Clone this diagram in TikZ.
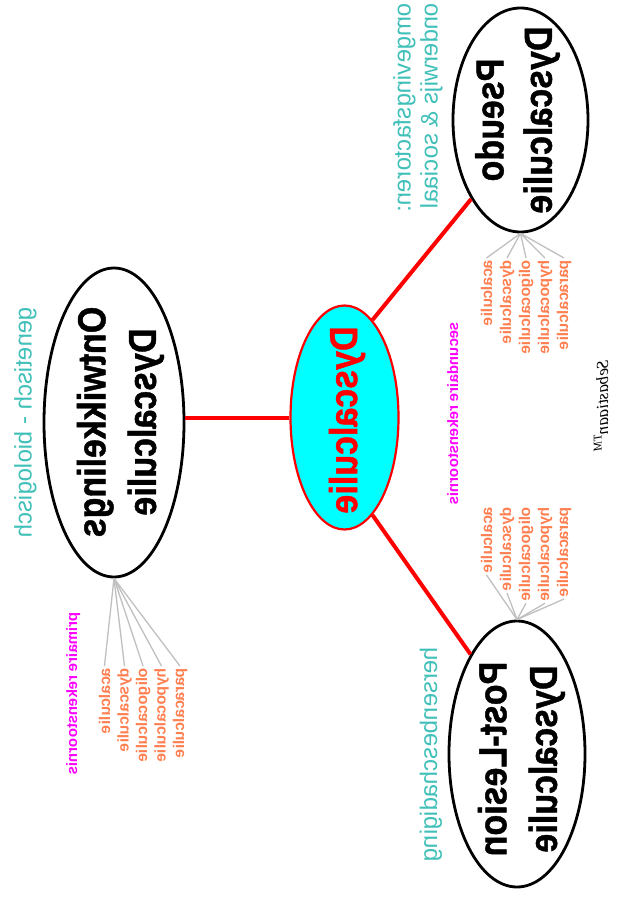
\documentclass[tikz,border=0pt]{standalone}
\usepackage{fontspec}
\setmainfont{Liberation Sans}
\newfontfamily\heavy{Liberation Sans}[BoldFeatures={FakeBold=1.2}]
\newfontfamily\sigfont{Liberation Serif}
\usetikzlibrary{shapes.geometric}
\definecolor{tealtxt}{RGB}{64,192,184}
\definecolor{labor}{RGB}{255,127,80}
\definecolor{fangray}{RGB}{192,192,192}
\definecolor{magtxt}{RGB}{255,0,255}
\definecolor{cyanfill}{RGB}{0,255,255}
\begin{document}
\begin{tikzpicture}[x=1pt,y=-1pt,
  flip/.style={cm={0,-1,-1,0,(0,0)}},
  bigflip/.style={cm={0,-1,-1.15,0,(0,0)}},
  oval/.style={ellipse, draw=black, line width=2.8pt, fill=white, inner sep=0pt},
  maintxt/.style={bigflip, align=center, inner sep=0pt, font=\heavy\fontsize{34}{#1}\selectfont\bfseries},
  redcon/.style={draw=red, line width=4pt},
  fan/.style={draw=fangray, line width=1.3pt},
  lab/.style={flip, inner sep=2pt, text=labor, font=\fontsize{15.5}{18}\selectfont\bfseries},
  mag/.style={flip, inner sep=0pt, text=magtxt, font=\fontsize{15}{18}\selectfont\bfseries},
  teal/.style={flip, inner sep=0pt, text=tealtxt, font=\fontsize{24}{27}\selectfont}
]
\fill[white] (0,0) rectangle (617,905);
\useasboundingbox (0,0) rectangle (617,905);

% ellipses
\node[oval, draw=red, line width=2.2pt, fill=cyanfill, minimum width=108pt, minimum height=224pt] (cen) at (344.5,417.5) {};
\node[oval, minimum width=140pt, minimum height=309pt] (ont) at (114,422.5) {};
\node[oval, minimum width=135pt, minimum height=224pt] (pse) at (520.5,120) {};
\node[oval, minimum width=136pt, minimum height=266pt] (pl) at (517,754) {};

% connectors
\draw[redcon] (cen.west) -- (cen.west -| ont.east);
\draw[redcon] (cen.74) -- (pse.238);
\draw[redcon] (cen.-74) -- (pl.115);

% node texts
\node[maintxt=42, text=red] (centxt) at (347,420) {Dyscalculie};
\node[maintxt=42] (psetxt) at (517.5,120) {Pseudo\\Dyscalculie};
\node[maintxt=44] (onttxt) at (120.5,422) {Ontwikkelings\\Dyscalculie};
\node[maintxt=44] (pltxt) at (521.5,759) {Post-Lesion\\Dyscalculie};

% Pseudo labels
\node[lab, anchor=base west] (pa1) at (492,258) {acalculie};
\node[lab, anchor=base west] (pa2) at (511,258) {dyscalculie};
\node[lab, anchor=base west] (pa3) at (530,258) {oligocalculie};
\node[lab, anchor=base west] (pa4) at (549,258) {hypocalculie};
\node[lab, anchor=base west] (pa5) at (568,258) {paracalculie};
\foreach \n in {pa1,pa2,pa3,pa4,pa5} \draw[fan] (pse.south) -- (\n.west);

% Post-Lesion labels
\node[lab, anchor=base west] (pb1) at (492,505) {acalculie};
\node[lab, anchor=base west] (pb2) at (511,505) {dyscalculie};
\node[lab, anchor=base west] (pb3) at (530,505) {oligocalculie};
\node[lab, anchor=base west] (pb4) at (549,505) {hypocalculie};
\node[lab, anchor=base west] (pb5) at (568,505) {paracalculie};
\foreach \n in {pb1,pb2,pb3,pb4,pb5} \draw[fan] (pl.north) -- (\n.east);

% Ontwikkelings labels
\node[lab, anchor=base west] (pc1) at (110,666) {acalculie};
\node[lab, anchor=base west] (pc2) at (128.5,666) {dyscalculie};
\node[lab, anchor=base west] (pc3) at (147,666) {oligocalculie};
\node[lab, anchor=base west] (pc4) at (165.5,666) {hypocalculie};
\node[lab, anchor=base west] (pc5) at (184,666) {paracalculie};
\foreach \n in {pc1,pc2,pc3,pc4,pc5} \draw[fan] (ont.south) -- (\n.west);

% magenta
\node[mag, anchor=base west] (sec) at (458,322) {secundaire rekenstoornis};
\node[mag, anchor=base west] (prim) at (77,612) {primaire rekenstoornis};

% teal
\node[teal, anchor=base west] (gen) at (31.5,307) {genetisch - biologisch};
\node[teal, anchor=north west, align=left] (omg) at (393,3) {omgevingsfactoren:\\onderwijs \& sociaal};
\node[teal, anchor=base west] (her) at (437,647) {hersenbeschadiging};

% signature
\node[flip, anchor=base west, inner sep=0pt, font=\sigfont\itshape\fontsize{17}{20}\selectfont] (sig) at (608,360) {Sebastiaan\textsuperscript{TM}};
\end{tikzpicture}
\end{document}
